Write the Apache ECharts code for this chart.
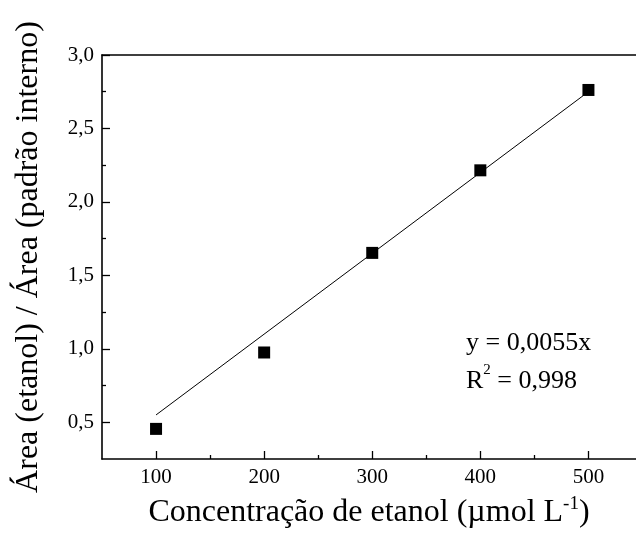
<!DOCTYPE html>
<html>
<head>
<meta charset="utf-8">
<script src="https://cdn.jsdelivr.net/npm/echarts@6/dist/echarts.min.js"></script>
<style>
  html, body { margin: 0; padding: 0; background: #fff; }
  #chart { width: 636px; height: 536px; }
</style>
</head>
<body>
<div id="chart"></div>
<script>
// Calibration: ethanol concentration vs. area ratio (ethanol / internal standard)
const concentration = [100, 200, 300, 400, 500];        // µmol L-1
const areaRatio     = [0.455, 0.975, 1.653, 2.215, 2.762];

// Linear fit through the origin, as stated in the annotation
const fitSlope = 0.0055;
const fitR2Text = '0,998';
const fitRange = [100, 500];

// Tick positions
const xMajorTicks = [100, 200, 300, 400, 500];
const xMinorTicks = [150, 250, 350, 450];
const yMajorTicks = [0.5, 1.0, 1.5, 2.0, 2.5, 3.0];
const yMinorTicks = [0.75, 1.25, 1.75, 2.25, 2.75];

const FONT = '"Liberation Serif", "Times New Roman", serif';
const fmtComma = v => v.toFixed(1).replace('.', ',');
const fmtSlope = v => 'y = ' + String(v).replace('.', ',') + 'x';

const chart = echarts.init(document.getElementById('chart'), null, { renderer: 'canvas' });

const X_MIN = 50, X_MAX = 544;
const Y_MIN = 0.25, Y_MAX = 3.0;
const TICK_STYLE = { color: '#000', width: 1.3 };
const AXIS_LINE = { show: true, onZero: false, lineStyle: { color: '#000', width: 1.6 } };

chart.setOption({
  animation: false,
  backgroundColor: '#fff',
  grid: { left: 102, top: 55, right: 0, bottom: 77, show: false },
  xAxis: [
    {
      type: 'value', min: X_MIN, max: X_MAX, position: 'bottom',
      splitLine: { show: false },
      axisLine: AXIS_LINE,
      axisTick: { show: true, inside: true, length: 8, customValues: xMajorTicks, lineStyle: TICK_STYLE },
      axisLabel: { show: true, customValues: xMajorTicks, margin: 8,
                   color: '#000', fontSize: 21, fontFamily: FONT },
      name: '{t|Concentração de etanol (µmol L}{s|-1}{t|)}',
      nameLocation: 'middle', nameGap: 36,
      nameTextStyle: {
        rich: {
          t: { fontSize: 32, fontFamily: FONT, color: '#000', lineHeight: 36 },
          s: { fontSize: 19, fontFamily: FONT, color: '#000', verticalAlign: 'top', lineHeight: 19 }
        }
      }
    },
    {
      type: 'value', min: X_MIN, max: X_MAX, position: 'bottom',
      splitLine: { show: false },
      axisLine: { show: false, onZero: false },
      axisTick: { show: true, inside: true, length: 4, customValues: xMinorTicks, lineStyle: TICK_STYLE },
      axisLabel: { show: false }
    },
    {
      type: 'value', min: X_MIN, max: X_MAX, position: 'top',
      splitLine: { show: false },
      axisLine: AXIS_LINE,
      axisTick: { show: false },
      axisLabel: { show: false }
    }
  ],
  yAxis: [
    {
      type: 'value', min: Y_MIN, max: Y_MAX, position: 'left',
      splitLine: { show: false },
      name: 'Área (etanol) / Área (padrão interno)',
      nameLocation: 'middle', nameGap: 57,
      nameTextStyle: { color: '#000', fontSize: 32, fontFamily: FONT },
      axisLine: AXIS_LINE,
      axisTick: { show: true, inside: true, length: 8, customValues: yMajorTicks, lineStyle: TICK_STYLE },
      axisLabel: { show: true, customValues: yMajorTicks, margin: 8,
                   formatter: fmtComma,
                   color: '#000', fontSize: 21, fontFamily: FONT }
    },
    {
      type: 'value', min: Y_MIN, max: Y_MAX, position: 'left',
      splitLine: { show: false },
      axisLine: { show: false, onZero: false },
      axisTick: { show: true, inside: true, length: 4, customValues: yMinorTicks, lineStyle: TICK_STYLE },
      axisLabel: { show: false }
    }
  ],
  graphic: [
    {
      type: 'text', left: 466, top: 330,
      style: {
        text: '{t|' + fmtSlope(fitSlope) + '}',
        rich: { t: { fontSize: 26, fontFamily: FONT, fill: '#000', lineHeight: 30 } }
      }
    },
    {
      type: 'text', left: 466, top: 363,
      style: {
        text: '{t|R}{s|2}{t| = ' + fitR2Text + '}',
        rich: {
          t: { fontSize: 26, fontFamily: FONT, fill: '#000', lineHeight: 36 },
          s: { fontSize: 15, fontFamily: FONT, fill: '#000', verticalAlign: 'top', lineHeight: 13 }
        }
      }
    }
  ],
  series: [
    {
      type: 'line', xAxisIndex: 0, yAxisIndex: 0,
      data: fitRange.map(x => [x, fitSlope * x]),
      showSymbol: false, symbol: 'none',
      lineStyle: { color: '#000', width: 1 },
      z: 2
    },
    {
      type: 'scatter', xAxisIndex: 0, yAxisIndex: 0,
      data: concentration.map((x, i) => [x, areaRatio[i]]),
      symbol: 'rect', symbolSize: 12,
      itemStyle: { color: '#000', opacity: 1 },
      z: 3
    }
  ]
});
</script>
</body>
</html>
